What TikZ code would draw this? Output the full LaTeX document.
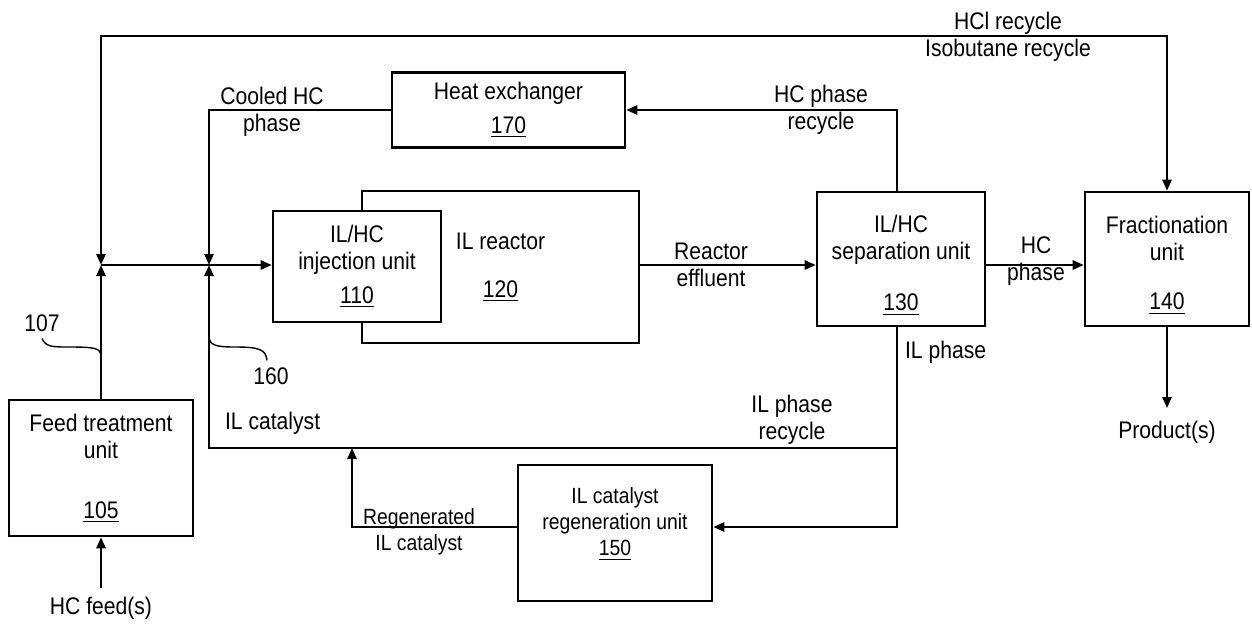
\documentclass[tikz,border=0pt]{standalone}
\usepackage{fontspec}
\setmainfont[FakeStretch=0.88]{Liberation Sans}
\usetikzlibrary{arrows.meta,positioning}

\begin{document}
\begin{tikzpicture}[x=0.5pt, y=-0.5pt,
  every node/.style={font=\fontsize{12}{13.5}\selectfont},
  box/.style={draw, line width=1.3pt, fill=white, align=center, inner sep=0pt},
  txt/.style={align=center},
  >={Triangle[length=5.5pt, width=4.6pt]},
  flow/.style={->, line width=1pt},
  lead/.style={line width=0.7pt}
]
\useasboundingbox (0,0) rectangle (1252,623);

% units
\node[box, minimum width=138.5pt, minimum height=76pt] (reactor) at (500.5,267) {IL reactor\\[10.5pt]\underline{120}};
\node[box, minimum width=84pt, minimum height=55.5pt] (injector) at (357,266.5) {IL/HC\\injection unit\\[3.5pt]\underline{110}};
\node[box, minimum width=116.5pt, minimum height=37.5pt] (hx) at (508.5,110) {Heat exchanger\\[3.5pt]\underline{170}};
\node[box, minimum width=84pt, minimum height=67pt] (separator) at (901,259) {\rule{0pt}{15pt}IL/HC\\separation unit\\[12pt]\underline{130}};
\node[box, minimum width=82pt, minimum height=67pt] (fractionator) at (1167,259) {\rule{0pt}{15pt}Fractionation\\unit\\[11pt]\underline{140}};
\node[box, minimum width=97pt, minimum height=68pt, font=\fontsize{11}{13}\selectfont] (regen) at (615,533) {IL catalyst\\regeneration unit\\\underline{150}\rule[-11pt]{0pt}{0pt}};
\node[box, minimum width=92pt, minimum height=68pt] (feed) at (101,468) {Feed treatment\\unit\\[16.5pt]\underline{105}};

% junctions and turns
\coordinate (j1) at (101,265);
\coordinate (j2) at (209,265);
\coordinate (topleft) at (101,36);
\coordinate (split) at (897,448);
\coordinate (regjoin) at (352,448);
\coordinate (feedin) at (101,588);
\coordinate (prodend) at (1167,408);
\coordinate (m107) at (101,354);
\coordinate (m160) at (209,337);

% streams
\draw[flow] (feedin) -- (feed.south);
\draw[flow] (feed.north) -- (j1);
\draw[flow, <->] (j1) -- (topleft) -| (fractionator.north);
\draw[flow] (j1) -- (j1 -| injector.west);
\draw[flow] (hx.west) -| (j2);
\draw[flow] ([xshift=-2pt]separator.north) |- (hx.east);
\draw[flow] (reactor.east |- j1) -- (separator.west |- j1);
\draw[flow] (separator.east |- j1) -- (fractionator.west |- j1);
\draw[flow] (fractionator.south) -- (prodend);
\draw[flow] ([xshift=-2pt]separator.south) |- ([yshift=3pt]regen.east);
\draw[flow] (split) -| (j2);
\draw[flow] ([yshift=3pt]regen.west) -| (regjoin);

% stream labels
\node[txt] (recyclelbl) at (1008,37) {HCl recycle\\Isobutane recycle};
\node[txt] (cooledlbl) at (272,112) {Cooled HC\\phase};
\node[txt] (hcreclbl) at (821,110) {HC phase\\recycle};
\node[txt] (effluentlbl) at (711,265) {Reactor\\effluent};
\node[txt] (hcphaselbl) at (1036,261) {HC\\phase};
\node[anchor=west] (ilphaselbl) at (898,352) {IL phase};
\node[txt] (ilreclbl) at (792,420) {IL phase\\recycle};
\node[anchor=west] (ilcatlbl) at (218,423) {IL catalyst};
\node[txt, font=\fontsize{11}{13}\selectfont] (regenlbl) at (419,532) {Regenerated\\IL catalyst};
\node[below=3pt of prodend] (productlbl) {Product(s)};
\node[below=1pt of feedin] (feedlbl) {HC feed(s)};
\node (n107) at (42,323) {107};
\node (n160) at (271,376) {160};

% leaders
\draw[lead] (n107.south) .. controls (46,347) and (52,347) .. (70,347) .. controls (92,347) and (100,348) .. (m107);
\draw[lead] (m160) .. controls (210,345) and (215,347) .. (235,347) .. controls (258,347) and (266,349) .. ([xshift=-2pt]n160.north);
\end{tikzpicture}
\end{document}
